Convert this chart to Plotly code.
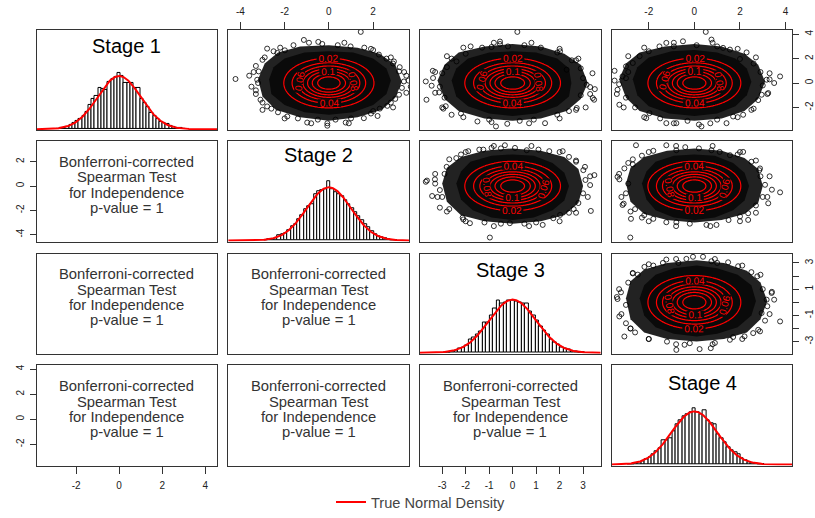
import numpy as np
import plotly.graph_objects as go

W, H = 815, 518
FONT = "Liberation Sans, Arial, sans-serif"

# ---------------- data ----------------
stage_names = ["Stage 1", "Stage 2", "Stage 3", "Stage 4"]

hist_bin_centers = [-2.85, -2.7, -2.55, -2.4, -2.25, -2.1, -1.95, -1.8, -1.65, -1.5,
                    -1.35, -1.2, -1.05, -0.9, -0.75, -0.6, -0.45, -0.3, -0.15, 0.0,
                    0.15, 0.3, 0.45, 0.6, 0.75, 0.9, 1.05, 1.2, 1.35, 1.5,
                    1.65, 1.8, 1.95, 2.1, 2.25, 2.4, 2.55, 2.7, 2.85, 3.0]
hist_bin_width = 0.15

stage1_density = [0.004, 0.008, 0.013, 0.02, 0.03, 0.047, 0.062, 0.076, 0.098, 0.13,
                  0.18, 0.23, 0.25, 0.31, 0.30, 0.295, 0.355, 0.38, 0.39, 0.425,
                  0.40, 0.35, 0.345, 0.35, 0.31, 0.31, 0.23, 0.2, 0.165, 0.125,
                  0.10, 0.075, 0.058, 0.048, 0.036, 0.026, 0.014, 0.01, 0.006, 0.003]
stage2_density = [0.002, 0.006, 0.012, 0.02, 0.042, 0.045, 0.055, 0.08, 0.11, 0.125,
                  0.16, 0.19, 0.235, 0.26, 0.275, 0.35, 0.37, 0.38, 0.385, 0.448,
                  0.385, 0.36, 0.35, 0.33, 0.305, 0.275, 0.245, 0.215, 0.18, 0.15,
                  0.12, 0.1, 0.07, 0.048, 0.035, 0.022, 0.014, 0.008, 0.004, 0.002]
stage3_density = [0.002, 0.005, 0.012, 0.02, 0.03, 0.042, 0.055, 0.10, 0.115, 0.135,
                  0.16, 0.23, 0.225, 0.28, 0.33, 0.39, 0.37, 0.375, 0.39, 0.395,
                  0.385, 0.38, 0.37, 0.37, 0.31, 0.28, 0.245, 0.2, 0.17, 0.14,
                  0.1, 0.075, 0.06, 0.04, 0.03, 0.022, 0.012, 0.007, 0.004, 0.002]
stage4_density = [0.0, 0.004, 0.008, 0.014, 0.025, 0.04, 0.058, 0.08, 0.1, 0.125,
                  0.185, 0.185, 0.2, 0.25, 0.30, 0.33, 0.36, 0.38, 0.39, 0.42,
                  0.39, 0.375, 0.41, 0.33, 0.31, 0.30, 0.23, 0.2, 0.17, 0.13,
                  0.11, 0.09, 0.075, 0.05, 0.033, 0.02, 0.01, 0.006, 0.003, 0.001]
stage_densities = [stage1_density, stage2_density, stage3_density, stage4_density]

# individually visible points in each upper panel (x = column stage, y = row stage)
pts_12_x = [1.44, -4.22, -1.13, -0.48, -2.79, -2.33, -1.99, 0.98, 2.26, 2.94, 2.9, 3.17, 3.39, 3.17, 2.64, 2.3,
            -0.98, -0.07, -0.07, 0.76, -1.88, -3.17, -3.24, -3.09, -2.79, 1.58,
            -3.3, -3.0, -2.5, -1.6, -0.3, 0.4, 1.6, 2.0, 2.6, 3.2, 3.5, 3.3, 3.0, 2.8, 1.9, 1.0, 0.3, -0.5,
            -1.4, -2.3, -2.6, -3.0, -3.3, -3.2, -3.6, -3.5, 2.0, 3.6, 3.7,
            -3.4, -3.3, -2.9, -2.2, -0.9, 0.7, 1.9, 2.8, 3.4, 3.5, 2.9, 2.2, 0.9, -0.8, -2.0, -3.0]
pts_12_y = [4.19, 0.33, 3.53, 3.37, 2.82, 2.47, 2.68, 3.0, 2.33, 1.77, 1.6, 0.95, 0.13, -0.96, -1.87, -2.1,
            -3.24, -3.5, -3.3, -3.24, -2.74, 0.95, 0.27, -1.37, -1.92, -2.88,
            1.4, 1.9, 2.6, 3.1, 3.2, 3.1, 2.9, 2.7, 2.0, 1.3, 0.6, -0.4, -1.3, -1.6, -2.5, -2.9, -3.0, -3.0,
            -2.9, -2.4, -2.1, -1.6, -0.6, 0.0, 0.6, -0.3, -2.3, 0.2, -0.3,
            0.9, -0.9, 2.1, 2.9, 3.3, 3.3, 2.8, 2.1, 0.9, -0.8, -2.0, -2.7, -3.3, -3.3, -2.9, -2.2]
pts_13_x = [0.2, -1.79, -0.54, -0.54, -0.9, 2.02, 2.52, 2.7, -3.7, -3.39, -3.45, -3.67, -3.13, -2.6, -2.85, -2.95,
            -1.5, -0.71, -0.23, 1.38, 2.73, 3.11, 3.47, 3.41, 3.3, 3.15, 2.3, 1.9, -2.39, -2.8,
            -3.0, -3.1, -2.9, -2.2, -1.0, 0.3, 0.9, 1.9, 2.4, 2.9, 3.0, 2.9, 1.2, 0.5, -0.2, -1.3, -2.0, -2.6, 3.5, -3.3,
            -3.4, -3.3, -2.8, -2.1, -0.8, 0.8, 2.0, 2.8, 3.4, 3.3, 2.7, 2.0, 0.7, -0.9, -2.1, -3.0]
pts_13_y = [4.19, 3.0, 3.4, 3.2, 2.95, 2.6, 1.86, 1.86, 0.13, 0.41, -0.22, -1.37, -0.77, -2.6, -1.9, -2.1,
            -3.15, -3.56, -3.34, -3.29, -2.05, -2.0, -1.37, -1.23, -0.33, -0.14, 1.09, 2.5, 1.77, 1.3,
            0.8, -0.3, -1.2, -2.5, -3.0, -3.1, -3.0, -2.6, -2.3, -1.0, 0.4, 1.2, 2.9, 3.1, 3.0, 2.9, 2.4, 2.0, -0.5, 0.9,
            1.0, -0.8, 2.2, 2.9, 3.3, 3.3, 2.8, 2.0, 0.8, -0.9, -2.2, -2.9, -3.3, -3.2, -2.8, -2.0]
pts_14_x = [0.5, 0.75, -0.5, 1.26, 1.56, 2.29, 2.0, 3.76, 3.17, 3.3, 2.95, 3.24, -3.37, -3.29, -3.15, -3.0,
            -1.97, -2.11, -1.23, -0.79, 0.31, 0.2, 1.41, 1.7, 2.14, 2.5, -3.0, -2.7, -1.53, -1.23,
            -2.4, -2.0, -0.9, 0.1, 1.0, 2.6, 2.9, 3.0, 2.8, 1.0, -0.3, -1.5, -2.6, -3.0, -3.3, -3.5, 3.5, -2.9,
            -3.5, -3.4, -2.9, -2.2, -0.9, 0.8, 1.9, 2.7, 3.3, 3.2, 2.6, 1.9, 0.7, -0.9, -2.2, -3.1]
pts_14_y = [4.19, 3.56, 3.42, 2.88, 2.74, 2.51, 1.97, 0.54, 0.27, 0.3, -0.96, -0.82, -0.55, -1.78, 0.54, 0.4,
            -2.47, -2.88, -3.29, -3.29, -3.56, -3.4, -3.29, -2.74, -2.6, -2.2, 1.36, 1.64, 3.0, 3.29,
            2.2, 2.6, 3.0, 3.1, 3.0, 1.6, 0.9, -0.2, -1.4, -3.0, -3.1, -2.9, -2.0, -1.2, -0.1, 0.2, 0.0, 0.9,
            1.0, -0.9, 2.2, 2.9, 3.3, 3.3, 2.8, 2.1, 0.8, -0.9, -2.1, -2.8, -3.3, -3.3, -2.8, -2.0]
pts_23_x = [-0.97, -3.7, -3.65, -3.31, -3.43, -3.1, -2.13, -2.1, -1.82, -1.89, -1.42, -1.25, -0.9, -0.33, 0.1, 0.6,
            1.56, 2.13, 3.08, 3.01, 3.48, 3.3, 3.33, 2.02, 1.73, 1.28, -0.12, -2.81, -3.1,
            -2.4, -2.9, -3.0, -2.7, -1.2, -0.5, 0.5, 1.0, 2.4, 2.8, 3.0, 3.1, 2.7, 2.4, 1.1, -0.5, -2.2, 2.6, -3.3,
            -3.3, -3.2, -2.7, -2.0, -0.8, 0.8, 2.0, 2.7, 3.3, 3.2, 2.7, 2.0, 0.7, -0.8, -2.0, -2.8]
pts_23_y = [-4.24, 0.35, 0.45, 0.55, -0.82, -1.78, -2.6, -2.75, -3.06, 2.87, 3.0, 3.0, 3.14, 3.36, 3.14, 2.95,
            2.87, 2.87, 1.58, 1.31, 0.9, 0.08, -2.05, -2.38, -2.65, -3.2, -3.06, 1.58, -0.33,
            2.3, 1.0, -0.9, -1.9, -3.0, -3.1, -3.1, -3.0, -2.2, -1.4, -0.6, 0.5, 2.0, 2.4, 3.0, 3.1, 2.6, -1.9, 0.2,
            1.0, -0.9, 2.2, 2.8, 3.3, 3.3, 2.8, 2.1, 0.8, -0.9, -2.2, -2.9, -3.3, -3.3, -2.9, -2.1]
pts_24_x = [-2.81, -3.37, -3.29, -2.7, -3.07, -3.15, -3.1, -2.78, -2.56, -1.23, -0.79, 0.75, 1.11, 1.56, 2.14, 2.88,
            2.85, 3.76, 3.24, 2.36, 2.36, 0.53, 0.97, -0.79, -1.23, -2.2, -2.3, 2.0,
            -2.9, -3.0, -2.6, -1.8, -0.2, 1.5, 2.7, 3.0, 3.1, 2.9, 2.5, 1.9, 0.2, -0.4, -1.8, -2.3, -2.9, 3.4,
            -3.3, -3.2, -2.7, -2.0, -0.8, 0.8, 2.0, 2.7, 3.3, 3.2, 2.7, 2.0, 0.7, -0.8, -2.0, -2.8]
pts_24_y = [-4.24, 0.76, 0.55, 1.78, 1.45, -1.56, -1.45, -2.7, 3.36, 3.36, 2.95, 2.95, 2.81, 2.54, 2.81, 1.45,
            1.3, -0.52, -1.42, -2.24, -2.79, -3.2, -3.2, -2.98, -2.98, -2.4, -2.6, -2.5,
            0.2, -0.6, -1.9, -2.7, -3.1, -2.8, -1.6, -0.9, 0.1, 0.8, 2.0, 2.6, 3.1, 3.2, 2.9, 2.5, 1.9, -0.3,
            1.0, -0.9, 2.2, 2.8, 3.3, 3.3, 2.8, 2.1, 0.8, -0.9, -2.2, -2.9, -3.3, -3.3, -2.9, -2.1]
pts_34_x = [-0.79, -0.43, -0.2, 0.23, 0.72, -0.06, 0.38, 0.75, -0.35, -1.23, -1.38, -2.19, -2.7, -2.48, -3.22, -3.37,
            -3.29, -3.07, -2.6, -2.8, 1.56, 1.7, 3.76, 3.39, 3.17, 2.76, 1.92, 1.48, 2.88, 2.58, 2.95,
            -2.9, -3.0, -3.0, -2.0, -1.2, 0.9, 2.2, 3.1, 3.2, 3.0, 2.5, 1.0, -0.7, -1.8, -3.4, 3.5,
            -3.3, -3.2, -2.7, -2.0, -0.8, 0.9, 2.1, 2.9, 3.4, 3.3, 2.8, 2.1, 0.8, -0.8, -2.0, -2.8]
pts_34_y = [-3.63, -3.24, -3.12, -3.57, -3.5, 3.47, 3.47, 3.13, 3.31, 3.26, 3.0, 2.7, 2.24, 2.11, 0.76, 0.25,
            -1.08, -2.61, -2.3, -2.0, -2.86, -2.65, -1.46, 0.71, 0.2, 1.98, 2.75, 3.05, -2.22, -2.35, -0.82,
            1.5, -0.2, -1.6, -2.8, -3.0, -3.1, -2.6, -1.4, -0.3, 1.0, 2.3, 3.0, 3.0, 2.8, 0.4, 0.2,
            1.0, -0.9, 2.2, 2.9, 3.3, 3.3, 2.8, 2.1, 0.8, -0.9, -2.1, -2.8, -3.2, -3.2, -2.8, -2.0]

# outline of the solid (fully over-plotted) black mass in each upper panel
core_12_x = [-2.7, -2.5, -2.0, -1.1, 0.0, 1.1, 2.0, 2.6, 2.8, 2.6, 2.0, 1.1, 0.0, -1.1, -2.0, -2.6]
core_12_y = [0.3, 1.3, 2.0, 2.5, 2.6, 2.5, 2.0, 1.2, 0.2, -0.9, -1.8, -2.4, -2.6, -2.4, -1.8, -0.9]
core_13_x = [-2.6, -2.4, -1.9, -1.0, 0.0, 1.0, 1.9, 2.4, 2.5, 2.4, 1.9, 1.0, 0.0, -1.0, -1.9, -2.4]
core_13_y = [0.2, 1.2, 2.0, 2.5, 2.6, 2.5, 2.0, 1.2, 0.0, -1.1, -1.9, -2.5, -2.7, -2.5, -1.9, -1.1]
core_14_x = [-2.7, -2.5, -2.0, -1.0, 0.0, 1.0, 1.8, 2.3, 2.5, 2.3, 1.8, 1.0, 0.0, -1.1, -2.0, -2.5]
core_14_y = [0.3, 1.3, 2.1, 2.6, 2.7, 2.5, 2.0, 1.2, 0.1, -1.0, -1.9, -2.5, -2.7, -2.5, -1.9, -1.0]
core_23_x = [-2.4, -2.2, -1.8, -0.9, 0.0, 0.9, 1.7, 2.2, 2.4, 2.2, 1.7, 0.9, 0.0, -0.9, -1.7, -2.2]
core_23_y = [0.2, 1.2, 2.0, 2.5, 2.6, 2.5, 1.9, 1.1, 0.0, -1.2, -2.0, -2.6, -2.8, -2.6, -2.0, -1.1]
core_24_x = [-2.3, -2.1, -1.7, -0.9, 0.0, 0.9, 1.7, 2.2, 2.4, 2.2, 1.7, 0.9, 0.0, -0.9, -1.7, -2.1]
core_24_y = [0.2, 1.2, 2.0, 2.5, 2.6, 2.5, 1.9, 1.1, 0.0, -1.2, -2.0, -2.6, -2.8, -2.6, -2.0, -1.1]
core_34_x = [-2.4, -2.2, -1.7, -0.9, 0.1, 1.0, 1.9, 2.5, 2.7, 2.5, 1.9, 1.0, 0.1, -0.9, -1.7, -2.2]
core_34_y = [0.3, 1.3, 2.1, 2.6, 2.8, 2.6, 2.1, 1.3, 0.1, -1.0, -1.9, -2.4, -2.6, -2.4, -1.9, -1.0]

# outline of the looser, partly over-plotted zone around it
ring_12_x = [-3.2, -2.9, -2.3, -1.3, 0.0, 1.3, 2.3, 3.0, 3.3, 3.0, 2.4, 1.3, 0.0, -1.3, -2.4, -3.0]
ring_12_y = [0.3, 1.6, 2.5, 3.0, 3.1, 2.9, 2.4, 1.5, 0.1, -1.2, -2.2, -2.8, -3.1, -2.8, -2.2, -1.1]
ring_13_x = [-3.2, -2.9, -2.3, -1.2, 0.0, 1.2, 2.2, 2.9, 3.2, 2.9, 2.3, 1.2, 0.0, -1.2, -2.3, -2.9]
ring_13_y = [0.2, 1.5, 2.5, 3.0, 3.2, 3.0, 2.4, 1.5, 0.0, -1.3, -2.3, -2.9, -3.1, -2.9, -2.3, -1.3]
ring_14_x = [-3.3, -3.0, -2.4, -1.3, 0.0, 1.2, 2.2, 2.8, 3.1, 2.8, 2.2, 1.2, 0.0, -1.3, -2.4, -3.0]
ring_14_y = [0.3, 1.6, 2.5, 3.0, 3.2, 3.0, 2.4, 1.5, 0.1, -1.3, -2.3, -2.9, -3.1, -2.9, -2.3, -1.2]
ring_23_x = [-3.0, -2.8, -2.2, -1.2, 0.0, 1.2, 2.2, 2.8, 3.0, 2.8, 2.2, 1.2, 0.0, -1.2, -2.2, -2.8]
ring_23_y = [0.2, 1.5, 2.4, 2.9, 3.1, 2.9, 2.4, 1.4, 0.0, -1.4, -2.4, -2.9, -3.1, -2.9, -2.4, -1.3]
ring_24_x = [-3.0, -2.8, -2.2, -1.2, 0.0, 1.2, 2.2, 2.8, 3.0, 2.8, 2.2, 1.2, 0.0, -1.2, -2.2, -2.8]
ring_24_y = [0.2, 1.5, 2.4, 2.9, 3.1, 2.9, 2.3, 1.4, 0.0, -1.4, -2.3, -2.8, -3.0, -2.8, -2.3, -1.3]
ring_34_x = [-3.0, -2.8, -2.2, -1.2, 0.1, 1.3, 2.3, 2.9, 3.2, 2.9, 2.3, 1.3, 0.1, -1.2, -2.2, -2.8]
ring_34_y = [0.3, 1.6, 2.5, 3.0, 3.2, 3.0, 2.4, 1.5, 0.1, -1.3, -2.3, -2.8, -3.0, -2.8, -2.3, -1.3]

upper_panels = {
    (0, 1): (pts_12_x, pts_12_y, core_12_x, core_12_y, ring_12_x, ring_12_y),
    (0, 2): (pts_13_x, pts_13_y, core_13_x, core_13_y, ring_13_x, ring_13_y),
    (0, 3): (pts_14_x, pts_14_y, core_14_x, core_14_y, ring_14_x, ring_14_y),
    (1, 2): (pts_23_x, pts_23_y, core_23_x, core_23_y, ring_23_x, ring_23_y),
    (1, 3): (pts_24_x, pts_24_y, core_24_x, core_24_y, ring_24_x, ring_24_y),
    (2, 3): (pts_34_x, pts_34_y, core_34_x, core_34_y, ring_34_x, ring_34_y),
}

contour_levels = [0.02, 0.04, 0.06, 0.08, 0.10, 0.12, 0.14]
test_text_lines = ["Bonferroni-corrected", "Spearman Test", "for Independence", "p-value = 1"]
legend_label = "True Normal Density"

# axis tick labels
xticks = {(0, 1): ("top", [-4, -2, 0, 2], ["-4", "-2", "0", "2"]),
          (0, 3): ("top", [-2, 0, 2, 4], ["-2", "0", "2", "4"]),
          (3, 0): ("bottom", [-2, 0, 2, 4], ["-2", "0", "2", "4"]),
          (3, 2): ("bottom", [-3, -2, -1, 0, 1, 2, 3], ["-3", "-2", "-1", "0", "1", "2", "3"])}
yticks = {(1, 0): ("left", [-4, -2, 0, 2], ["-4", "-2", "0", "2"]),
          (3, 0): ("left", [-2, 0, 2, 4], ["-2", "0", "2", "4"]),
          (0, 3): ("right", [-2, 0, 2, 4], ["-2", "0", "2", "4"]),
          (2, 3): ("right", [-3, -2, -1, 0, 1, 2, 3], ["-3", "", "-1", "", "1", "", "3"])}

# ---------------- layout geometry ----------------
col_left = [36.5, 228.2, 419.9, 611.6]
col_w = 180.8
row_top = [30, 141.5, 254, 366]
row_h = 100.5
var_xrange = [[-3.84, 4.56], [-4.55, 3.62], [-3.95, 3.75], [-3.63, 4.3]]
var_yrange = [[-3.87, 4.35], [-4.57, 3.69], [-3.93, 3.72], [-3.7, 4.3]]
diag_yrange = [-0.008, 0.745]
title_offset = [15.7, 13.5, 16.3, 17.3]
text_offsets = [21, 36.3, 51.6, 67]


def ids(r, c):
    k = r * 4 + c + 1
    s = "" if k == 1 else str(k)
    return "x" + s, "y" + s, s


def outline_path(xs, ys):
    return "M " + " L ".join(f"{x},{y}" for x, y in zip(xs, ys)) + " Z"


fig = go.Figure()
annotations = []
shapes = []
layout_axes = {}

for r in range(4):
    for c in range(4):
        xid, yid, s = ids(r, c)
        xr = var_xrange[c]
        yr = diag_yrange if r == c else var_yrange[r]
        xa = dict(domain=[col_left[c] / W, (col_left[c] + col_w) / W], range=xr, anchor=yid,
                  showline=True, mirror=True, linecolor="#333", linewidth=1,
                  showgrid=False, zeroline=False, showticklabels=False, ticks="",
                  fixedrange=True, automargin=False)
        ya = dict(domain=[1 - (row_top[r] + row_h) / H, 1 - row_top[r] / H], range=yr, anchor=xid,
                  showline=True, mirror=True, linecolor="#333", linewidth=1,
                  showgrid=False, zeroline=False, showticklabels=False, ticks="",
                  fixedrange=True, automargin=False)
        if (r, c) in xticks:
            side, tv, tt = xticks[(r, c)]
            xa.update(side=side, tickmode="array", tickvals=tv, ticktext=tt, ticks="outside",
                      ticklen=7, tickcolor="#333", showticklabels=True, ticklabelstandoff=3,
                      tickfont=dict(family=FONT, size=10, color="#222"))
        if (r, c) in yticks:
            side, tv, tt = yticks[(r, c)]
            ya.update(side=side, tickmode="array", tickvals=tv, ticktext=tt, ticks="outside",
                      ticklen=6, tickcolor="#333", showticklabels=True, tickangle=-90,
                      ticklabelstandoff=2, tickfont=dict(family=FONT, size=10, color="#222"))
        layout_axes["xaxis" + s] = xa
        layout_axes["yaxis" + s] = ya

        if r == c:
            fig.add_trace(go.Bar(x=hist_bin_centers, y=stage_densities[r], width=hist_bin_width,
                                 marker=dict(color="white", line=dict(color="black", width=1)),
                                 xaxis=xid, yaxis=yid, showlegend=False, hoverinfo="skip"))
            gx = np.linspace(xr[0], xr[1], 300)
            gy = np.exp(-gx ** 2 / 2) / np.sqrt(2 * np.pi)
            fig.add_trace(go.Scatter(x=gx, y=gy, mode="lines", line=dict(color="#ff0000", width=2),
                                     xaxis=xid, yaxis=yid, name=legend_label,
                                     showlegend=(r == 0), hoverinfo="skip"))
            annotations.append(dict(text=stage_names[r], xref=xid + " domain", yref=yid + " domain",
                                    x=0.5, y=1 - title_offset[r] / row_h, showarrow=False,
                                    xanchor="center", yanchor="middle",
                                    font=dict(family=FONT, size=20, color="#000")))
        elif c > r:
            px, py, cx, cy, rx, ry = upper_panels[(r, c)]
            shapes.append(dict(type="path", path=outline_path(rx, ry), xref=xid, yref=yid,
                               fillcolor="#222222", line=dict(width=0), layer="below"))
            shapes.append(dict(type="path", path=outline_path(cx, cy), xref=xid, yref=yid,
                               fillcolor="#0a0a0a", line=dict(width=0), layer="below"))
            gx = np.linspace(xr[0], xr[1], 160)
            gy = np.linspace(yr[0], yr[1], 160)
            X, Y = np.meshgrid(gx, gy)
            Z = np.exp(-(X ** 2 + Y ** 2) / 2) / (2 * np.pi)
            fig.add_trace(go.Contour(x=gx, y=gy, z=Z, xaxis=xid, yaxis=yid,
                                     contours=dict(start=contour_levels[0], end=contour_levels[-1],
                                                   size=contour_levels[1] - contour_levels[0],
                                                   coloring="none", showlabels=True,
                                                   labelfont=dict(family=FONT, size=10, color="#ff0000"),
                                                   labelformat=".2~g"),
                                     line=dict(width=1.2, color="#ff0000"), showscale=False,
                                     hoverinfo="skip", showlegend=False))
            fig.add_trace(go.Scatter(x=px, y=py, mode="markers",
                                     marker=dict(symbol="circle-open", size=5, color="rgba(0,0,0,0.8)",
                                                 line=dict(width=1)),
                                     xaxis=xid, yaxis=yid, showlegend=False, hoverinfo="skip"))
        else:
            fig.add_trace(go.Scatter(x=[None], y=[None], mode="markers", xaxis=xid, yaxis=yid,
                                     showlegend=False, hoverinfo="skip"))
            for i, line in enumerate(test_text_lines):
                annotations.append(dict(text=line, xref=xid + " domain", yref=yid + " domain",
                                        x=0.5, y=1 - text_offsets[i] / row_h, showarrow=False,
                                        xanchor="center", yanchor="middle",
                                        font=dict(family=FONT, size=14.8, color="#333")))

fig.update_layout(
    width=W, height=H, margin=dict(l=0, r=0, t=0, b=0),
    paper_bgcolor="white", plot_bgcolor="white",
    barmode="overlay", bargap=0,
    annotations=annotations,
    shapes=shapes,
    showlegend=True,
    legend=dict(orientation="h", x=331 / W, xanchor="left", y=1 - 503 / H, yanchor="middle",
                font=dict(family=FONT, size=14.6, color="#444"), bgcolor="rgba(0,0,0,0)",
                itemwidth=30),
    **layout_axes,
)

fig.write_html("out.html")
